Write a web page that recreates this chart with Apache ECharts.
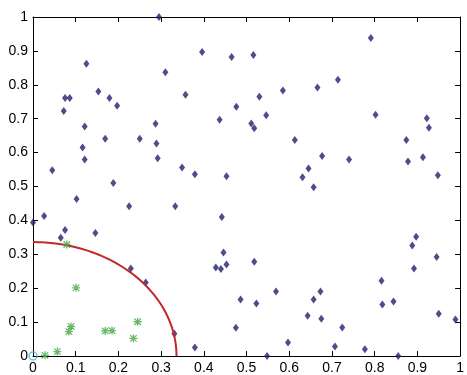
<!DOCTYPE html>
<html>
<head>
<meta charset="utf-8">
<script src="https://cdn.jsdelivr.net/npm/echarts@6/dist/echarts.min.js"></script>
<style>
	html, body { margin: 0; padding: 0; background: #fff; }
	#chart { width: 467px; height: 375px; }
</style>
</head>
<body>
<div id="chart"></div>
<script>
// blue points (outside the circle)
var blueX = [0.295, 0.125, 0.396, 0.465, 0.310, 0.153, 0.075, 0.086, 0.179, 0.357,
	0.072, 0.197, 0.476, 0.437, 0.287, 0.121, 0.169, 0.250, 0.289, 0.116,
	0.121, 0.292, 0.349, 0.379, 0.045, 0.453, 0.188, 0.791, 0.516, 0.714,
	0.585, 0.666, 0.530, 0.546, 0.802, 0.922, 0.927, 0.511, 0.518, 0.613,
	0.874, 0.677, 0.740, 0.878, 0.913, 0.645, 0.631, 0.657, 0.948, 0.102,
	0.026, 0.000, 0.225, 0.333, 0.442, 0.075, 0.065, 0.146, 0.446, 0.453,
	0.428, 0.440, 0.229, 0.264, 0.331, 0.379, 0.475, 0.897, 0.888, 0.892,
	0.945, 0.518, 0.816, 0.569, 0.673, 0.486, 0.523, 0.657, 0.818, 0.844,
	0.643, 0.675, 0.950, 0.989, 0.724, 0.597, 0.707, 0.777, 0.548, 0.855];
var blueY = [1.000, 0.862, 0.897, 0.882, 0.837, 0.780, 0.761, 0.761, 0.761, 0.771,
	0.723, 0.738, 0.735, 0.697, 0.685, 0.677, 0.641, 0.641, 0.627, 0.615,
	0.580, 0.583, 0.556, 0.536, 0.548, 0.530, 0.510, 0.938, 0.888, 0.815,
	0.783, 0.792, 0.765, 0.710, 0.712, 0.701, 0.673, 0.686, 0.672, 0.637,
	0.637, 0.590, 0.580, 0.574, 0.586, 0.553, 0.527, 0.498, 0.533, 0.463,
	0.413, 0.394, 0.442, 0.442, 0.410, 0.372, 0.349, 0.363, 0.305, 0.270,
	0.261, 0.257, 0.258, 0.217, 0.066, 0.025, 0.083, 0.352, 0.326, 0.258,
	0.292, 0.278, 0.222, 0.190, 0.190, 0.167, 0.155, 0.167, 0.152, 0.161,
	0.119, 0.110, 0.125, 0.108, 0.084, 0.040, 0.028, 0.020, 0.000, 0.000];
// green points (inside the circle)
var greenX = [0.079, 0.101, 0.089, 0.084, 0.169, 0.185, 0.245, 0.235, 0.057, 0.028];
var greenY = [0.329, 0.201, 0.087, 0.072, 0.074, 0.075, 0.101, 0.052, 0.013, 0.002];
// centre point
var centerX = [0];
var centerY = [0];
var arcRadius = 0.336;

function pairs(xs, ys) {
	var out = [];
	for (var i = 0; i < xs.length; i++) {
		out.push([xs[i], ys[i]]);
	}
	return out;
}

// quarter circle of radius arcRadius
var arcData = [];
for (var a = 0; a <= 90; a++) {
	var t = a * Math.PI / 180;
	arcData.push([arcRadius * Math.cos(t), arcRadius * Math.sin(t)]);
}

// asterisk marker (plus + cross)
var asterisk = 'path://M4.2,0L5.8,0L5.8,4.2L10,4.2L10,5.8L5.8,5.8L5.8,10L4.2,10L4.2,5.8L0,5.8L0,4.2L4.2,4.2Z' +
	'M1.5,0.4L5,3.9L8.5,0.4L9.6,1.5L6.1,5L9.6,8.5L8.5,9.6L5,6.1L1.5,9.6L0.4,8.5L3.9,5L0.4,1.5Z';

var font = 'Liberation Sans';
var axisLine = { show: true, onZero: false, lineStyle: { color: '#000', width: 1 } };
var tick = { show: true, inside: true, length: 5, lineStyle: { color: '#000' } };

var chart = echarts.init(document.getElementById('chart'));
chart.setOption({
	backgroundColor: '#fff',
	animation: false,
	grid: { left: 33, right: 2, top: 17, bottom: 15, containLabel: false },
	xAxis: [{
		type: 'value', min: 0, max: 1, interval: 0.1,
		axisLine: axisLine, axisTick: tick,
		splitLine: { show: false },
		axisLabel: { color: '#000', fontSize: 14, fontFamily: font, margin: 5 }
	}, {
		type: 'value', min: 0, max: 1, interval: 0.1, position: 'top',
		axisLine: axisLine, axisTick: tick,
		splitLine: { show: false }, axisLabel: { show: false }
	}],
	yAxis: [{
		type: 'value', min: 0, max: 1, interval: 0.1,
		axisLine: axisLine, axisTick: tick,
		splitLine: { show: false },
		axisLabel: { color: '#000', fontSize: 14, fontFamily: font, margin: 5 }
	}, {
		type: 'value', min: 0, max: 1, interval: 0.1, position: 'right',
		axisLine: axisLine, axisTick: tick,
		splitLine: { show: false }, axisLabel: { show: false }
	}],
	series: [{
		type: 'scatter',
		data: pairs(blueX, blueY),
		symbol: 'diamond',
		symbolSize: [6, 8],
		itemStyle: { color: '#20206e' },
		clip: false
	}, {
		type: 'line',
		data: arcData,
		showSymbol: false,
		lineStyle: { color: '#c3272b', width: 2 },
		z: 3
	}, {
		type: 'scatter',
		data: pairs(greenX, greenY),
		symbol: asterisk,
		symbolSize: 8,
		itemStyle: { color: '#44a844' },
		z: 4
	}, {
		type: 'scatter',
		data: pairs(centerX, centerY),
		symbol: 'circle',
		symbolSize: 8,
		itemStyle: { color: 'rgba(0,0,0,0)', borderColor: '#4fb6c6', borderWidth: 1.5 },
		clip: false,
		z: 5
	}]
});
</script>
</body>
</html>
